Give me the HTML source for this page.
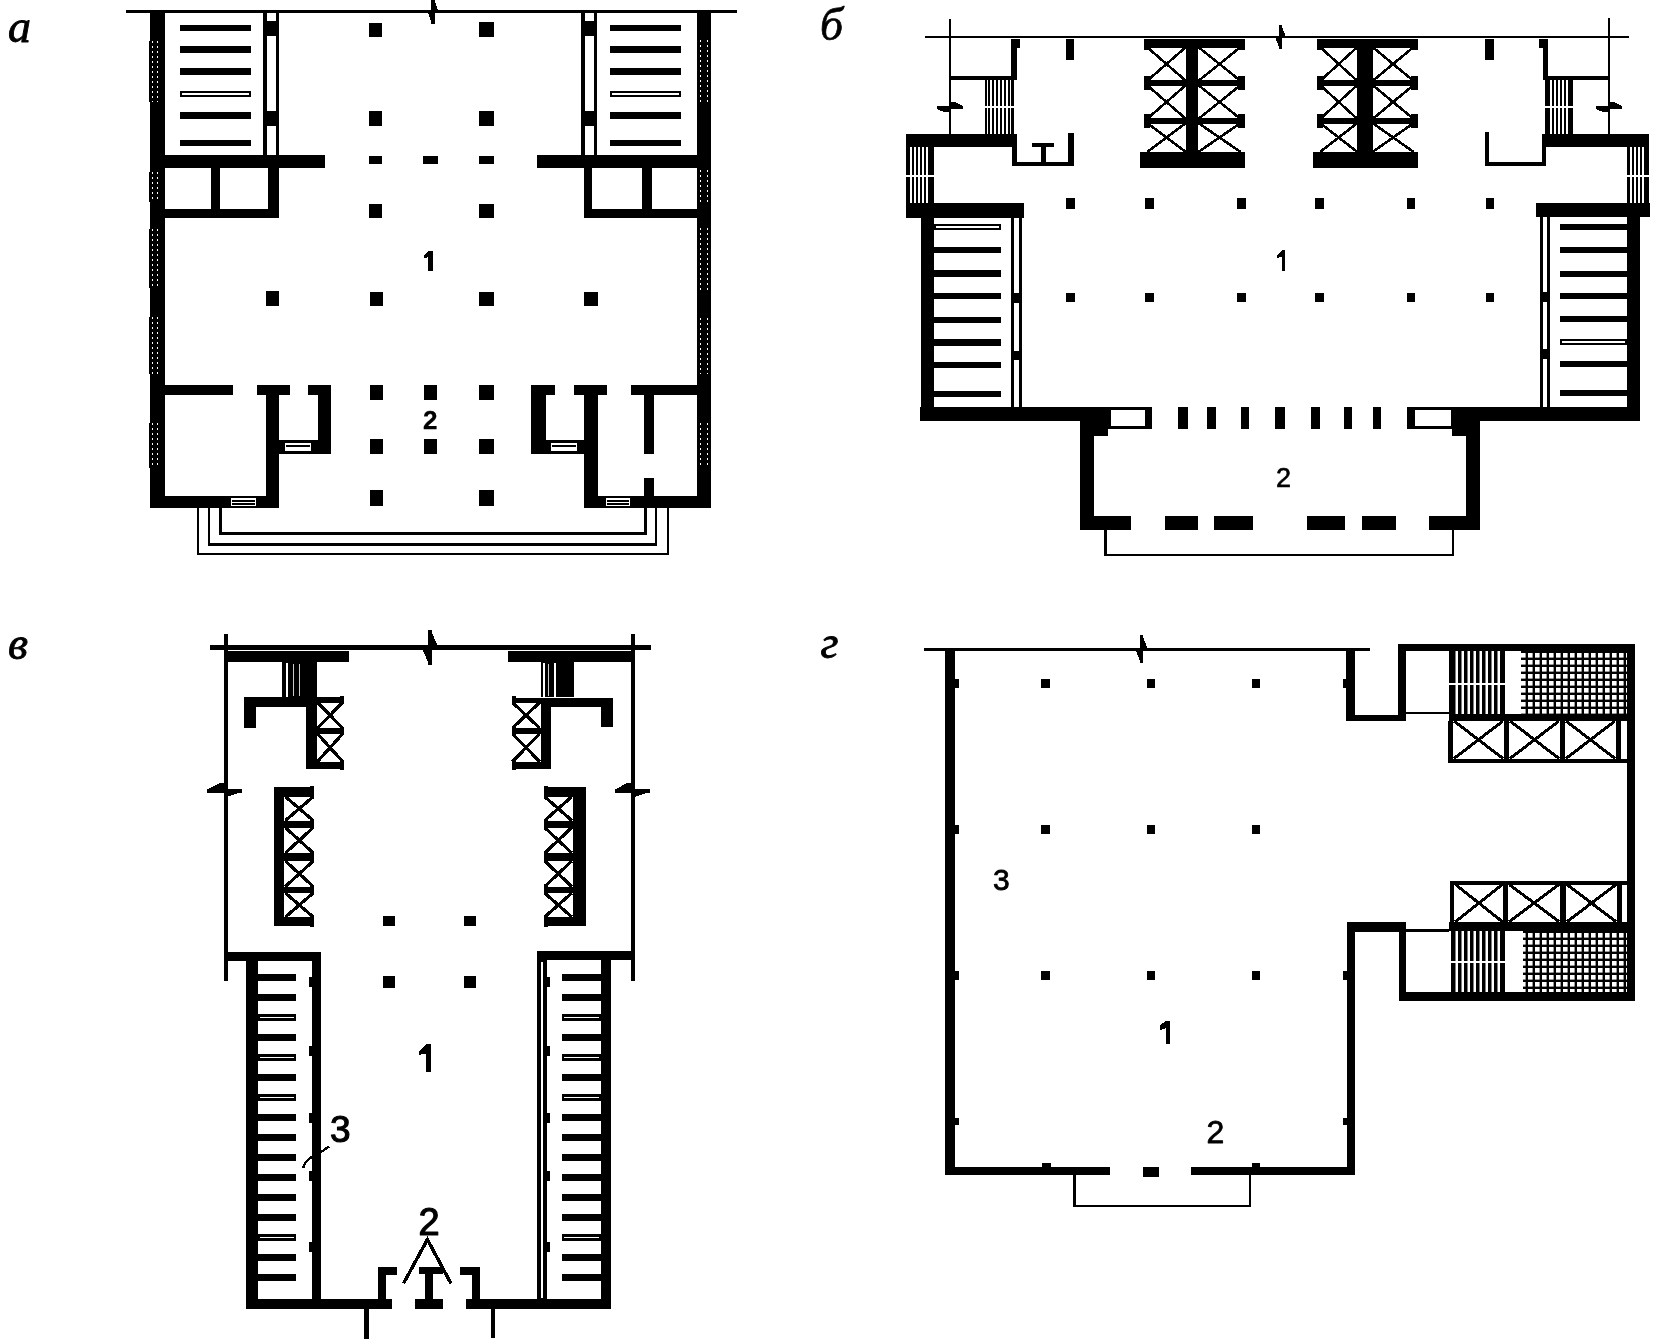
<!DOCTYPE html>
<html><head><meta charset="utf-8"><style>html,body{margin:0;padding:0;background:#fff;width:1654px;height:1343px;overflow:hidden}svg{display:block;will-change:transform}</style></head>
<body><svg width="1654" height="1343" viewBox="0 0 1654 1343" shape-rendering="crispEdges">
<defs>
<pattern id="vs" x="0" y="0" width="4" height="10" patternUnits="userSpaceOnUse"><rect x="0" y="0" width="2" height="10" fill="#000"/></pattern>
<pattern id="vs2" x="0" y="0" width="6" height="10" patternUnits="userSpaceOnUse"><rect x="0" y="0" width="3.5" height="10" fill="#000" shape-rendering="auto"/></pattern>
<pattern id="grid" x="0" y="0" width="7" height="7" patternUnits="userSpaceOnUse"><rect width="7" height="7" fill="#000"/><rect x="2" y="2" width="4.6" height="4.6" fill="#fff" shape-rendering="auto"/></pattern>
</defs>
<text x="8" y="42" font-family="Liberation Serif" font-size="46" font-weight="normal" stroke="#000" stroke-width="0.9" stroke-linejoin="round"><tspan font-style="italic">a</tspan></text>
<rect x="126.0" y="10.0" width="611.0" height="2.5" fill="#000"/>
<rect x="431.1" y="-0.5" width="3.7" height="24.0" fill="#000"/>
<polygon points="434.9,1.3 437.9,10.5 434.9,10.5" fill="#000"/>
<polygon points="431.1,12.5 428.1,12.5 431.1,21.7" fill="#000"/>
<rect x="150.0" y="11.0" width="15.0" height="497.0" fill="#000"/>
<rect x="696.5" y="11.0" width="14.5" height="497.0" fill="#000"/>
<path d="M152.5,41 V102 M157.5,41 V102" stroke="#fff" stroke-width="1" stroke-dasharray="1.5 3.5" fill="none"/>
<rect x="148.8" y="41.0" width="2.2" height="61.0" fill="#000"/>
<path d="M152.5,172 V202 M157.5,172 V202" stroke="#fff" stroke-width="1" stroke-dasharray="1.5 3.5" fill="none"/>
<rect x="148.8" y="172.0" width="2.2" height="30.0" fill="#000"/>
<path d="M152.5,229 V288 M157.5,229 V288" stroke="#fff" stroke-width="1" stroke-dasharray="1.5 3.5" fill="none"/>
<rect x="148.8" y="229.0" width="2.2" height="59.0" fill="#000"/>
<path d="M152.5,317 V374 M157.5,317 V374" stroke="#fff" stroke-width="1" stroke-dasharray="1.5 3.5" fill="none"/>
<rect x="148.8" y="317.0" width="2.2" height="57.0" fill="#000"/>
<path d="M152.5,423 V468 M157.5,423 V468" stroke="#fff" stroke-width="1" stroke-dasharray="1.5 3.5" fill="none"/>
<rect x="148.8" y="423.0" width="2.2" height="45.0" fill="#000"/>
<path d="M700.5,40 V103 M707.5,40 V103" stroke="#fff" stroke-width="1" stroke-dasharray="1.5 3.5" fill="none"/>
<path d="M700.5,170 V203 M707.5,170 V203" stroke="#fff" stroke-width="1" stroke-dasharray="1.5 3.5" fill="none"/>
<path d="M700.5,228 V290 M707.5,228 V290" stroke="#fff" stroke-width="1" stroke-dasharray="1.5 3.5" fill="none"/>
<path d="M700.5,318 V374 M707.5,318 V374" stroke="#fff" stroke-width="1" stroke-dasharray="1.5 3.5" fill="none"/>
<path d="M700.5,423 V468 M707.5,423 V468" stroke="#fff" stroke-width="1" stroke-dasharray="1.5 3.5" fill="none"/>
<rect x="180.0" y="24.7" width="71.0" height="6.6" fill="#000"/>
<rect x="180.0" y="46.3" width="71.0" height="6.6" fill="#000"/>
<rect x="180.0" y="68.2" width="71.0" height="6.6" fill="#000"/>
<rect x="180.0" y="90.5" width="71.0" height="6.6" fill="#000"/>
<rect x="182.0" y="92.8" width="67.0" height="2.0" fill="#fff"/>
<rect x="180.0" y="112.4" width="71.0" height="6.6" fill="#000"/>
<rect x="180.0" y="139.7" width="71.0" height="6.6" fill="#000"/>
<rect x="610.0" y="24.7" width="71.0" height="6.6" fill="#000"/>
<rect x="610.0" y="46.3" width="71.0" height="6.6" fill="#000"/>
<rect x="610.0" y="68.2" width="71.0" height="6.6" fill="#000"/>
<rect x="610.0" y="90.5" width="71.0" height="6.6" fill="#000"/>
<rect x="612.0" y="92.8" width="67.0" height="2.0" fill="#fff"/>
<rect x="610.0" y="112.4" width="71.0" height="6.6" fill="#000"/>
<rect x="610.0" y="139.7" width="71.0" height="6.6" fill="#000"/>
<rect x="263.0" y="11.0" width="3.5" height="144.0" fill="#000"/>
<rect x="275.5" y="11.0" width="3.5" height="144.0" fill="#000"/>
<rect x="263.0" y="21.0" width="16.0" height="15.0" fill="#000"/>
<rect x="263.0" y="111.0" width="16.0" height="15.0" fill="#000"/>
<rect x="581.0" y="11.0" width="3.5" height="144.0" fill="#000"/>
<rect x="593.5" y="11.0" width="3.5" height="144.0" fill="#000"/>
<rect x="581.0" y="21.0" width="16.0" height="15.0" fill="#000"/>
<rect x="581.0" y="111.0" width="16.0" height="15.0" fill="#000"/>
<rect x="151.0" y="155.0" width="174.0" height="12.5" fill="#000"/>
<rect x="536.6" y="155.0" width="174.4" height="12.5" fill="#000"/>
<rect x="268.0" y="167.0" width="11.0" height="51.0" fill="#000"/>
<rect x="151.0" y="209.0" width="128.0" height="9.0" fill="#000"/>
<rect x="211.0" y="167.0" width="9.0" height="51.0" fill="#000"/>
<rect x="584.0" y="167.0" width="8.4" height="51.0" fill="#000"/>
<rect x="584.0" y="209.0" width="127.0" height="9.0" fill="#000"/>
<rect x="642.0" y="167.0" width="10.0" height="51.0" fill="#000"/>
<rect x="369.0" y="23.0" width="13.0" height="14.0" fill="#000"/>
<rect x="478.5" y="22.0" width="15.0" height="15.0" fill="#000"/>
<rect x="369.0" y="111.0" width="13.0" height="15.0" fill="#000"/>
<rect x="478.5" y="111.0" width="15.0" height="15.0" fill="#000"/>
<rect x="369.0" y="156.0" width="13.0" height="8.0" fill="#000"/>
<rect x="423.0" y="156.0" width="15.0" height="8.0" fill="#000"/>
<rect x="478.5" y="156.0" width="15.0" height="8.0" fill="#000"/>
<rect x="369.0" y="204.0" width="13.0" height="14.0" fill="#000"/>
<rect x="478.5" y="204.0" width="15.0" height="14.0" fill="#000"/>
<rect x="266.0" y="291.0" width="13.0" height="15.0" fill="#000"/>
<rect x="369.5" y="292.0" width="13.5" height="14.0" fill="#000"/>
<rect x="479.0" y="292.0" width="15.0" height="14.0" fill="#000"/>
<rect x="584.0" y="292.0" width="14.0" height="14.0" fill="#000"/>
<rect x="369.5" y="385.0" width="13.5" height="15.0" fill="#000"/>
<rect x="424.0" y="385.0" width="13.0" height="15.0" fill="#000"/>
<rect x="479.0" y="385.0" width="15.0" height="15.0" fill="#000"/>
<rect x="369.5" y="439.0" width="13.5" height="15.0" fill="#000"/>
<rect x="424.0" y="439.0" width="13.0" height="15.0" fill="#000"/>
<rect x="479.0" y="439.0" width="15.0" height="15.0" fill="#000"/>
<rect x="369.5" y="490.0" width="13.5" height="16.0" fill="#000"/>
<rect x="479.0" y="490.0" width="15.0" height="16.0" fill="#000"/>
<rect x="165.0" y="385.0" width="68.0" height="10.0" fill="#000"/>
<rect x="256.7" y="385.0" width="33.0" height="10.0" fill="#000"/>
<rect x="266.0" y="385.0" width="13.0" height="123.0" fill="#000"/>
<rect x="307.6" y="385.0" width="23.4" height="10.0" fill="#000"/>
<rect x="318.0" y="385.0" width="13.0" height="69.0" fill="#000"/>
<rect x="279.0" y="440.0" width="52.0" height="14.0" fill="#000"/>
<rect x="285.0" y="443.0" width="26.0" height="8.0" fill="#fff"/>
<path d="M286,446 H310" stroke="#000" stroke-width="1.5" fill="none"/>
<rect x="151.0" y="495.5" width="128.0" height="12.5" fill="#000"/>
<rect x="231.0" y="498.0" width="25.0" height="8.0" fill="#fff"/>
<path d="M232,501 H255 M232,504 H255" stroke="#000" stroke-width="1.2" fill="none"/>
<rect x="631.0" y="385.0" width="66.0" height="10.0" fill="#000"/>
<rect x="574.0" y="385.0" width="32.5" height="10.0" fill="#000"/>
<rect x="584.0" y="385.0" width="14.0" height="123.0" fill="#000"/>
<rect x="530.5" y="385.0" width="24.5" height="10.0" fill="#000"/>
<rect x="530.5" y="385.0" width="15.5" height="69.0" fill="#000"/>
<rect x="530.5" y="440.0" width="53.5" height="14.0" fill="#000"/>
<rect x="551.0" y="443.0" width="26.0" height="8.0" fill="#fff"/>
<path d="M552,446 H576" stroke="#000" stroke-width="1.5" fill="none"/>
<rect x="644.0" y="395.0" width="10.0" height="59.0" fill="#000"/>
<rect x="644.0" y="477.6" width="10.0" height="30.4" fill="#000"/>
<rect x="584.0" y="495.5" width="127.0" height="12.5" fill="#000"/>
<rect x="606.0" y="498.0" width="24.0" height="8.0" fill="#fff"/>
<path d="M607,501 H629 M607,504 H629" stroke="#000" stroke-width="1.2" fill="none"/>
<path d="M198,508 V554 H668 V508" stroke="#000" stroke-width="2.5" fill="none"/>
<path d="M209,508 V544.6 H656 V508" stroke="#000" stroke-width="2.5" fill="none"/>
<path d="M220.5,508 V533.5 H645.5 V508" stroke="#000" stroke-width="2.5" fill="none"/>
<polygon points="424,255 428.2,251 432.9,251 432.9,270.8 428.2,270.8 428.2,257.1 425.5,258 424,258" fill="#000"/>
<text x="423" y="428.5" font-family="Liberation Sans" font-size="26" font-weight="bold" stroke="#000" stroke-width="0.3" stroke-linejoin="round">2</text>
<text x="820" y="40" font-family="Liberation Serif" font-size="46" font-weight="normal" stroke="#000" stroke-width="0.7" stroke-linejoin="round"><tspan font-style="italic">б</tspan></text>
<rect x="925.0" y="35.5" width="704.0" height="2.5" fill="#000"/>
<rect x="1279.0" y="25.0" width="3.0" height="24.0" fill="#000"/>
<polygon points="1282.0,26.8 1285.5,36.0 1282.0,36.0" fill="#000"/>
<polygon points="1279.0,38.0 1275.5,38.0 1279.0,47.2" fill="#000"/>
<path d="M950,19 V134" stroke="#000" stroke-width="2.2" fill="none"/>
<rect x="937.0" y="105.9" width="26.0" height="3.0" fill="#000"/>
<polygon points="949.0,101.9 955.2,101.9 963.0,105.9 949.0,105.9" fill="#000"/>
<polygon points="951.0,111.9 943.5,111.9 937.0,108.9 951.0,108.9" fill="#000"/>
<path d="M1609,18 V134" stroke="#000" stroke-width="2.2" fill="none"/>
<rect x="1596.0" y="105.9" width="26.0" height="3.0" fill="#000"/>
<polygon points="1608.0,101.9 1614.2,101.9 1622.0,105.9 1608.0,105.9" fill="#000"/>
<polygon points="1610.0,111.9 1602.5,111.9 1596.0,108.9 1610.0,108.9" fill="#000"/>
<rect x="1011.0" y="39.0" width="5.5" height="41.0" fill="#000"/>
<rect x="1011.0" y="39.0" width="9.0" height="9.0" fill="#000"/>
<rect x="950.0" y="76.0" width="65.0" height="4.0" fill="#000"/>
<rect x="985.0" y="78.0" width="29.0" height="56.0" fill="url(#vs)"/>
<rect x="985.0" y="78.0" width="2.0" height="56.0" fill="#000"/>
<rect x="1011.0" y="78.0" width="3.0" height="56.0" fill="#000"/>
<rect x="985.0" y="106.0" width="29.0" height="2.0" fill="#fff"/>
<rect x="1066.0" y="39.0" width="8.0" height="21.0" fill="#000"/>
<rect x="906.0" y="134.0" width="110.0" height="13.4" fill="#000"/>
<rect x="906.0" y="147.0" width="27.5" height="56.0" fill="url(#vs)"/>
<rect x="906.0" y="147.0" width="3.0" height="56.0" fill="#000"/>
<rect x="930.0" y="147.0" width="3.5" height="56.0" fill="#000"/>
<rect x="906.0" y="175.0" width="27.5" height="2.0" fill="#fff"/>
<rect x="906.0" y="203.0" width="118.4" height="14.7" fill="#000"/>
<rect x="1012.0" y="134.0" width="5.0" height="32.4" fill="#000"/>
<rect x="1012.0" y="162.0" width="62.0" height="4.4" fill="#000"/>
<rect x="1068.0" y="133.0" width="6.0" height="33.4" fill="#000"/>
<rect x="1032.0" y="143.0" width="21.5" height="4.4" fill="#000"/>
<rect x="1040.7" y="147.0" width="4.9" height="15.0" fill="#000"/>
<rect x="1543.0" y="39.0" width="5.0" height="41.0" fill="#000"/>
<rect x="1539.4" y="39.0" width="8.6" height="9.0" fill="#000"/>
<rect x="1545.0" y="76.0" width="64.0" height="4.0" fill="#000"/>
<rect x="1545.0" y="78.0" width="27.5" height="56.0" fill="url(#vs)"/>
<rect x="1545.0" y="78.0" width="3.0" height="56.0" fill="#000"/>
<rect x="1569.5" y="78.0" width="3.0" height="56.0" fill="#000"/>
<rect x="1545.0" y="106.0" width="27.5" height="2.0" fill="#fff"/>
<rect x="1484.7" y="39.0" width="9.0" height="21.0" fill="#000"/>
<rect x="1541.7" y="134.0" width="107.3" height="13.0" fill="#000"/>
<rect x="1626.5" y="147.0" width="22.5" height="56.0" fill="url(#vs)"/>
<rect x="1626.5" y="147.0" width="3.0" height="56.0" fill="#000"/>
<rect x="1646.0" y="147.0" width="3.0" height="56.0" fill="#000"/>
<rect x="1626.5" y="175.0" width="22.5" height="2.0" fill="#fff"/>
<rect x="1536.0" y="203.0" width="114.0" height="14.0" fill="#000"/>
<rect x="1541.7" y="134.0" width="4.0" height="32.0" fill="#000"/>
<rect x="1484.7" y="162.0" width="61.0" height="4.0" fill="#000"/>
<rect x="1484.7" y="132.0" width="4.3" height="34.0" fill="#000"/>
<rect x="1143.5" y="39.0" width="101.2" height="9.0" fill="#000"/>
<rect x="1186.0" y="39.0" width="12.3" height="128.5" fill="#000"/>
<rect x="1140.0" y="151.8" width="104.7" height="15.7" fill="#000"/>
<rect x="1143.5" y="80.0" width="101.2" height="5.5" fill="#000"/>
<rect x="1143.5" y="118.0" width="101.2" height="5.5" fill="#000"/>
<rect x="1143.5" y="75.6" width="6.5" height="14.0" fill="#000"/>
<rect x="1237.7" y="75.6" width="7.0" height="14.0" fill="#000"/>
<rect x="1143.5" y="113.6" width="6.5" height="14.0" fill="#000"/>
<rect x="1237.7" y="113.6" width="7.0" height="14.0" fill="#000"/>
<rect x="1143.5" y="39.0" width="6.5" height="11.0" fill="#000"/>
<rect x="1237.7" y="39.0" width="7.0" height="11.0" fill="#000"/>
<path d="M1147,47 L1186,81 M1186,47 L1147,81" stroke="#000" stroke-width="2.6" fill="none"/>
<path d="M1147,85 L1186,119 M1186,85 L1147,119" stroke="#000" stroke-width="2.6" fill="none"/>
<path d="M1147,123 L1186,152 M1186,123 L1147,152" stroke="#000" stroke-width="2.6" fill="none"/>
<path d="M1198.3,47 L1240.7,81 M1240.7,47 L1198.3,81" stroke="#000" stroke-width="2.6" fill="none"/>
<path d="M1198.3,85 L1240.7,119 M1240.7,85 L1198.3,119" stroke="#000" stroke-width="2.6" fill="none"/>
<path d="M1198.3,123 L1240.7,152 M1240.7,123 L1198.3,152" stroke="#000" stroke-width="2.6" fill="none"/>
<rect x="1316.5" y="39.0" width="101.2" height="9.0" fill="#000"/>
<rect x="1357.4" y="39.0" width="15.1" height="128.5" fill="#000"/>
<rect x="1313.0" y="151.8" width="104.7" height="15.7" fill="#000"/>
<rect x="1316.5" y="80.0" width="101.2" height="5.5" fill="#000"/>
<rect x="1316.5" y="118.0" width="101.2" height="5.5" fill="#000"/>
<rect x="1316.5" y="75.6" width="6.5" height="14.0" fill="#000"/>
<rect x="1410.7" y="75.6" width="7.0" height="14.0" fill="#000"/>
<rect x="1316.5" y="113.6" width="6.5" height="14.0" fill="#000"/>
<rect x="1410.7" y="113.6" width="7.0" height="14.0" fill="#000"/>
<rect x="1316.5" y="39.0" width="6.5" height="11.0" fill="#000"/>
<rect x="1410.7" y="39.0" width="7.0" height="11.0" fill="#000"/>
<path d="M1320,47 L1357.4,81 M1357.4,47 L1320,81" stroke="#000" stroke-width="2.6" fill="none"/>
<path d="M1320,85 L1357.4,119 M1357.4,85 L1320,119" stroke="#000" stroke-width="2.6" fill="none"/>
<path d="M1320,123 L1357.4,152 M1357.4,123 L1320,152" stroke="#000" stroke-width="2.6" fill="none"/>
<path d="M1372.5,47 L1413.7,81 M1413.7,47 L1372.5,81" stroke="#000" stroke-width="2.6" fill="none"/>
<path d="M1372.5,85 L1413.7,119 M1413.7,85 L1372.5,119" stroke="#000" stroke-width="2.6" fill="none"/>
<path d="M1372.5,123 L1413.7,152 M1413.7,123 L1372.5,152" stroke="#000" stroke-width="2.6" fill="none"/>
<rect x="920.6" y="217.0" width="13.4" height="204.0" fill="#000"/>
<rect x="934.0" y="223.5" width="67.0" height="6.4" fill="#000"/>
<rect x="936.0" y="225.7" width="63.0" height="2.0" fill="#fff"/>
<rect x="934.0" y="246.5" width="67.0" height="6.4" fill="#000"/>
<rect x="934.0" y="270.4" width="67.0" height="6.4" fill="#000"/>
<rect x="934.0" y="292.8" width="67.0" height="6.4" fill="#000"/>
<rect x="934.0" y="316.5" width="67.0" height="6.4" fill="#000"/>
<rect x="934.0" y="339.3" width="67.0" height="6.4" fill="#000"/>
<rect x="934.0" y="361.7" width="67.0" height="6.4" fill="#000"/>
<rect x="934.0" y="390.7" width="67.0" height="6.4" fill="#000"/>
<rect x="1010.6" y="217.0" width="3.0" height="190.0" fill="#000"/>
<rect x="1018.8" y="217.0" width="3.0" height="190.0" fill="#000"/>
<rect x="1010.6" y="293.4" width="11.2" height="10.0" fill="#000"/>
<rect x="1010.6" y="351.0" width="11.2" height="9.0" fill="#000"/>
<rect x="1626.5" y="217.0" width="13.0" height="204.0" fill="#000"/>
<rect x="1560.0" y="223.7" width="66.5" height="6.0" fill="#000"/>
<rect x="1560.0" y="246.7" width="66.5" height="6.0" fill="#000"/>
<rect x="1560.0" y="270.6" width="66.5" height="6.0" fill="#000"/>
<rect x="1560.0" y="292.6" width="66.5" height="6.0" fill="#000"/>
<rect x="1560.0" y="316.0" width="66.5" height="6.0" fill="#000"/>
<rect x="1560.0" y="339.0" width="66.5" height="6.0" fill="#000"/>
<rect x="1562.0" y="341.0" width="62.5" height="2.0" fill="#fff"/>
<rect x="1560.0" y="361.4" width="66.5" height="6.0" fill="#000"/>
<rect x="1560.0" y="390.4" width="66.5" height="6.0" fill="#000"/>
<rect x="1540.0" y="217.0" width="3.0" height="190.0" fill="#000"/>
<rect x="1547.0" y="217.0" width="3.0" height="190.0" fill="#000"/>
<rect x="1540.0" y="292.0" width="10.0" height="10.0" fill="#000"/>
<rect x="1540.0" y="349.0" width="10.0" height="10.0" fill="#000"/>
<rect x="920.0" y="407.3" width="188.0" height="13.7" fill="#000"/>
<rect x="1109.5" y="408.8" width="41.4" height="18.2" fill="none" stroke="#000" stroke-width="3"/>
<rect x="1144.6" y="407.3" width="7.8" height="21.2" fill="#000"/>
<rect x="1080.0" y="421.0" width="28.0" height="15.0" fill="#000"/>
<rect x="1080.0" y="421.0" width="14.0" height="109.0" fill="#000"/>
<rect x="1178.0" y="407.0" width="10.0" height="21.5" fill="#000"/>
<rect x="1207.0" y="407.0" width="9.0" height="21.5" fill="#000"/>
<rect x="1241.0" y="407.0" width="8.0" height="21.5" fill="#000"/>
<rect x="1275.0" y="407.0" width="10.0" height="21.5" fill="#000"/>
<rect x="1311.0" y="407.0" width="9.0" height="21.5" fill="#000"/>
<rect x="1344.0" y="407.0" width="8.0" height="21.5" fill="#000"/>
<rect x="1373.0" y="407.0" width="8.0" height="21.5" fill="#000"/>
<rect x="1408.5" y="408.5" width="43.6" height="18.5" fill="none" stroke="#000" stroke-width="3"/>
<rect x="1407.0" y="407.0" width="7.5" height="21.5" fill="#000"/>
<rect x="1452.0" y="407.0" width="187.5" height="14.0" fill="#000"/>
<rect x="1452.0" y="421.0" width="14.0" height="15.0" fill="#000"/>
<rect x="1466.0" y="421.0" width="14.0" height="109.0" fill="#000"/>
<rect x="1080.0" y="516.0" width="50.6" height="14.0" fill="#000"/>
<rect x="1165.4" y="516.0" width="32.6" height="14.0" fill="#000"/>
<rect x="1214.0" y="516.0" width="38.6" height="14.0" fill="#000"/>
<rect x="1306.8" y="516.0" width="38.0" height="14.0" fill="#000"/>
<rect x="1362.0" y="516.0" width="33.5" height="14.0" fill="#000"/>
<rect x="1429.0" y="516.0" width="51.0" height="14.0" fill="#000"/>
<path d="M1105.5,530 V555 H1453 V530" stroke="#000" stroke-width="2.5" fill="none"/>
<rect x="1066.0" y="197.6" width="8.7" height="11.2" fill="#000"/>
<rect x="1145.0" y="197.6" width="8.5" height="11.2" fill="#000"/>
<rect x="1237.0" y="197.6" width="9.0" height="11.2" fill="#000"/>
<rect x="1315.0" y="197.6" width="8.5" height="11.2" fill="#000"/>
<rect x="1407.0" y="197.6" width="8.0" height="11.2" fill="#000"/>
<rect x="1485.5" y="197.6" width="8.5" height="11.2" fill="#000"/>
<rect x="1066.0" y="293.4" width="8.7" height="8.9" fill="#000"/>
<rect x="1145.0" y="293.4" width="8.5" height="8.9" fill="#000"/>
<rect x="1237.0" y="293.4" width="9.0" height="8.9" fill="#000"/>
<rect x="1315.0" y="293.4" width="8.5" height="8.9" fill="#000"/>
<rect x="1407.0" y="293.4" width="8.0" height="8.9" fill="#000"/>
<rect x="1485.5" y="293.4" width="8.5" height="8.9" fill="#000"/>
<polygon points="1277,255 1282,250.1 1285.2,250.1 1285.2,270.7 1282,270.7 1282,256.8 1278.5,257.5 1277,257.5" fill="#000"/>
<text x="1276" y="487" font-family="Liberation Sans" font-size="27" font-weight="normal" stroke="#000" stroke-width="0.6" stroke-linejoin="round">2</text>
<text x="8" y="659" font-family="Liberation Serif" font-size="46" font-weight="normal" stroke="#000" stroke-width="0.9" stroke-linejoin="round"><tspan font-style="italic">в</tspan></text>
<rect x="209.5" y="645.0" width="441.9" height="5.0" fill="#000"/>
<rect x="428.1" y="630.0" width="3.9" height="35.0" fill="#000"/>
<polygon points="431.9,632.6 437.9,646.5 431.9,646.5" fill="#000"/>
<polygon points="428.1,648.5 422.1,648.5 428.1,662.4" fill="#000"/>
<rect x="224.0" y="634.0" width="3.5" height="347.0" fill="#000"/>
<rect x="207.0" y="788.8" width="35.0" height="3.9" fill="#000"/>
<polygon points="225.5,782.8 220.1,782.8 208.8,788.8 225.5,788.8" fill="#000"/>
<polygon points="223.5,797.2 226.2,797.2 239.4,792.8 223.5,792.8" fill="#000"/>
<rect x="630.5" y="634.0" width="4.0" height="347.0" fill="#000"/>
<rect x="614.5" y="788.8" width="35.0" height="3.9" fill="#000"/>
<polygon points="633.0,782.8 627.6,782.8 616.2,788.8 633.0,788.8" fill="#000"/>
<polygon points="631.0,797.2 633.8,797.2 646.9,792.8 631.0,792.8" fill="#000"/>
<rect x="225.0" y="651.0" width="123.8" height="11.4" fill="#000"/>
<rect x="508.4" y="651.0" width="124.0" height="11.4" fill="#000"/>
<rect x="282.0" y="662.0" width="34.5" height="35.0" fill="#000"/>
<rect x="285.8" y="663.0" width="2.1" height="34.0" fill="#fff"/>
<path d="M293,664 V696 M299,664 V696" stroke="#fff" stroke-width="0.8" fill="none"/>
<rect x="540.6" y="662.0" width="33.4" height="35.0" fill="#000"/>
<rect x="542.8" y="663.0" width="1.8" height="34.0" fill="#fff"/>
<rect x="554.0" y="663.0" width="2.0" height="34.0" fill="#fff"/>
<path d="M548,664 V696" stroke="#fff" stroke-width="0.8" fill="none"/>
<rect x="244.0" y="697.0" width="72.5" height="9.7" fill="#000"/>
<rect x="244.0" y="697.0" width="11.5" height="30.6" fill="#000"/>
<rect x="540.6" y="697.5" width="72.2" height="9.5" fill="#000"/>
<rect x="601.4" y="697.5" width="11.4" height="29.5" fill="#000"/>
<rect x="306.0" y="697.0" width="10.5" height="71.8" fill="#000"/>
<rect x="306.0" y="697.0" width="37.6" height="5.5" fill="#000"/>
<rect x="306.0" y="728.0" width="37.6" height="5.8" fill="#000"/>
<rect x="306.0" y="761.5" width="37.6" height="7.3" fill="#000"/>
<path d="M317.5,702.5 L342.6,728 M342.6,702.5 L317.5,728" stroke="#000" stroke-width="3.2" fill="none"/>
<path d="M317.5,733.8 L342.6,761.5 M342.6,733.8 L317.5,761.5" stroke="#000" stroke-width="3.2" fill="none"/>
<rect x="339.6" y="695.5" width="4.0" height="8.5" fill="#000"/>
<rect x="339.6" y="726.5" width="4.0" height="8.8" fill="#000"/>
<rect x="339.6" y="760.0" width="4.0" height="10.3" fill="#000"/>
<rect x="540.6" y="697.5" width="10.7" height="71.3" fill="#000"/>
<rect x="511.5" y="697.5" width="39.8" height="5.0" fill="#000"/>
<rect x="511.5" y="728.0" width="39.8" height="5.8" fill="#000"/>
<rect x="511.5" y="761.5" width="39.8" height="7.3" fill="#000"/>
<path d="M512.5,702.5 L539.6,728 M539.6,702.5 L512.5,728" stroke="#000" stroke-width="3.2" fill="none"/>
<path d="M512.5,733.8 L539.6,761.5 M539.6,733.8 L512.5,761.5" stroke="#000" stroke-width="3.2" fill="none"/>
<rect x="511.5" y="696.0" width="4.0" height="8.0" fill="#000"/>
<rect x="511.5" y="726.5" width="4.0" height="8.8" fill="#000"/>
<rect x="511.5" y="760.0" width="4.0" height="10.3" fill="#000"/>
<rect x="274.0" y="787.0" width="10.4" height="138.8" fill="#000"/>
<rect x="274.0" y="787.0" width="40.2" height="9.7" fill="#000"/>
<rect x="274.0" y="820.5" width="40.2" height="7.1" fill="#000"/>
<rect x="274.0" y="853.0" width="40.2" height="8.0" fill="#000"/>
<rect x="274.0" y="886.5" width="40.2" height="6.5" fill="#000"/>
<rect x="274.0" y="917.0" width="40.2" height="8.8" fill="#000"/>
<path d="M285.4,796.7 L313.2,820.5 M313.2,796.7 L285.4,820.5" stroke="#000" stroke-width="3.2" fill="none"/>
<path d="M285.4,827.6 L313.2,853 M313.2,827.6 L285.4,853" stroke="#000" stroke-width="3.2" fill="none"/>
<path d="M285.4,861 L313.2,886.5 M313.2,861 L285.4,886.5" stroke="#000" stroke-width="3.2" fill="none"/>
<path d="M285.4,893 L313.2,917 M313.2,893 L285.4,917" stroke="#000" stroke-width="3.2" fill="none"/>
<rect x="310.2" y="785.5" width="4.0" height="12.7" fill="#000"/>
<rect x="310.2" y="819.0" width="4.0" height="10.1" fill="#000"/>
<rect x="310.2" y="851.5" width="4.0" height="11.0" fill="#000"/>
<rect x="310.2" y="885.0" width="4.0" height="9.5" fill="#000"/>
<rect x="310.2" y="915.5" width="4.0" height="11.8" fill="#000"/>
<rect x="572.8" y="787.0" width="13.2" height="138.8" fill="#000"/>
<rect x="543.7" y="787.0" width="42.3" height="9.7" fill="#000"/>
<rect x="543.7" y="820.5" width="42.3" height="7.1" fill="#000"/>
<rect x="543.7" y="853.0" width="42.3" height="8.0" fill="#000"/>
<rect x="543.7" y="886.5" width="42.3" height="6.5" fill="#000"/>
<rect x="543.7" y="917.0" width="42.3" height="8.8" fill="#000"/>
<path d="M544.7,796.7 L571.8,820.5 M571.8,796.7 L544.7,820.5" stroke="#000" stroke-width="3.2" fill="none"/>
<path d="M544.7,827.6 L571.8,853 M571.8,827.6 L544.7,853" stroke="#000" stroke-width="3.2" fill="none"/>
<path d="M544.7,861 L571.8,886.5 M571.8,861 L544.7,886.5" stroke="#000" stroke-width="3.2" fill="none"/>
<path d="M544.7,893 L571.8,917 M571.8,893 L544.7,917" stroke="#000" stroke-width="3.2" fill="none"/>
<rect x="543.7" y="785.5" width="4.0" height="12.7" fill="#000"/>
<rect x="543.7" y="819.0" width="4.0" height="10.1" fill="#000"/>
<rect x="543.7" y="851.5" width="4.0" height="11.0" fill="#000"/>
<rect x="543.7" y="885.0" width="4.0" height="9.5" fill="#000"/>
<rect x="543.7" y="915.5" width="4.0" height="11.8" fill="#000"/>
<rect x="383.0" y="915.5" width="11.5" height="10.5" fill="#000"/>
<rect x="464.0" y="915.5" width="11.5" height="10.5" fill="#000"/>
<rect x="383.0" y="976.0" width="11.5" height="12.4" fill="#000"/>
<rect x="464.0" y="976.0" width="11.5" height="12.4" fill="#000"/>
<rect x="224.6" y="952.0" width="96.8" height="8.5" fill="#000"/>
<rect x="537.0" y="950.5" width="96.5" height="9.5" fill="#000"/>
<rect x="246.0" y="952.0" width="11.8" height="356.6" fill="#000"/>
<rect x="312.0" y="952.0" width="9.4" height="356.6" fill="#000"/>
<rect x="601.3" y="950.5" width="10.1" height="358.1" fill="#000"/>
<rect x="536.8" y="950.5" width="10.2" height="358.1" fill="#000"/>
<rect x="540.5" y="962.0" width="2.5" height="336.0" fill="#fff"/>
<rect x="258.0" y="974.0" width="38.0" height="7.2" fill="#000"/>
<rect x="562.3" y="974.0" width="39.0" height="7.2" fill="#000"/>
<rect x="258.0" y="993.7" width="38.0" height="7.2" fill="#000"/>
<rect x="562.3" y="993.7" width="39.0" height="7.2" fill="#000"/>
<rect x="258.0" y="1013.7" width="38.0" height="7.2" fill="#000"/>
<rect x="562.3" y="1013.7" width="39.0" height="7.2" fill="#000"/>
<rect x="260.0" y="1016.5" width="34.0" height="1.6" fill="#fff"/>
<rect x="564.3" y="1016.5" width="35.0" height="1.6" fill="#fff"/>
<rect x="258.0" y="1033.7" width="38.0" height="7.2" fill="#000"/>
<rect x="562.3" y="1033.7" width="39.0" height="7.2" fill="#000"/>
<rect x="258.0" y="1053.7" width="38.0" height="7.2" fill="#000"/>
<rect x="562.3" y="1053.7" width="39.0" height="7.2" fill="#000"/>
<rect x="260.0" y="1056.5" width="34.0" height="1.6" fill="#fff"/>
<rect x="564.3" y="1056.5" width="35.0" height="1.6" fill="#fff"/>
<rect x="258.0" y="1073.7" width="38.0" height="7.2" fill="#000"/>
<rect x="562.3" y="1073.7" width="39.0" height="7.2" fill="#000"/>
<rect x="258.0" y="1093.7" width="38.0" height="7.2" fill="#000"/>
<rect x="562.3" y="1093.7" width="39.0" height="7.2" fill="#000"/>
<rect x="260.0" y="1096.5" width="34.0" height="1.6" fill="#fff"/>
<rect x="564.3" y="1096.5" width="35.0" height="1.6" fill="#fff"/>
<rect x="258.0" y="1113.7" width="38.0" height="7.2" fill="#000"/>
<rect x="562.3" y="1113.7" width="39.0" height="7.2" fill="#000"/>
<rect x="258.0" y="1133.7" width="38.0" height="7.2" fill="#000"/>
<rect x="562.3" y="1133.7" width="39.0" height="7.2" fill="#000"/>
<rect x="258.0" y="1153.7" width="38.0" height="7.2" fill="#000"/>
<rect x="562.3" y="1153.7" width="39.0" height="7.2" fill="#000"/>
<rect x="258.0" y="1173.7" width="38.0" height="7.2" fill="#000"/>
<rect x="562.3" y="1173.7" width="39.0" height="7.2" fill="#000"/>
<rect x="258.0" y="1193.7" width="38.0" height="7.2" fill="#000"/>
<rect x="562.3" y="1193.7" width="39.0" height="7.2" fill="#000"/>
<rect x="258.0" y="1213.7" width="38.0" height="7.2" fill="#000"/>
<rect x="562.3" y="1213.7" width="39.0" height="7.2" fill="#000"/>
<rect x="258.0" y="1233.7" width="38.0" height="7.2" fill="#000"/>
<rect x="562.3" y="1233.7" width="39.0" height="7.2" fill="#000"/>
<rect x="260.0" y="1236.5" width="34.0" height="1.6" fill="#fff"/>
<rect x="564.3" y="1236.5" width="35.0" height="1.6" fill="#fff"/>
<rect x="258.0" y="1253.7" width="38.0" height="7.2" fill="#000"/>
<rect x="562.3" y="1253.7" width="39.0" height="7.2" fill="#000"/>
<rect x="258.0" y="1273.7" width="38.0" height="7.2" fill="#000"/>
<rect x="562.3" y="1273.7" width="39.0" height="7.2" fill="#000"/>
<rect x="309.0" y="977.0" width="3.0" height="10.0" fill="#000"/>
<rect x="547.0" y="977.0" width="3.0" height="10.0" fill="#000"/>
<rect x="309.0" y="1046.0" width="3.0" height="10.0" fill="#000"/>
<rect x="547.0" y="1046.0" width="3.0" height="10.0" fill="#000"/>
<rect x="309.0" y="1112.5" width="3.0" height="10.0" fill="#000"/>
<rect x="547.0" y="1112.5" width="3.0" height="10.0" fill="#000"/>
<rect x="309.0" y="1171.0" width="3.0" height="10.0" fill="#000"/>
<rect x="547.0" y="1171.0" width="3.0" height="10.0" fill="#000"/>
<rect x="309.0" y="1241.5" width="3.0" height="10.0" fill="#000"/>
<rect x="547.0" y="1241.5" width="3.0" height="10.0" fill="#000"/>
<rect x="246.0" y="1298.8" width="146.0" height="9.8" fill="#000"/>
<rect x="466.0" y="1298.8" width="145.4" height="9.8" fill="#000"/>
<rect x="378.0" y="1266.5" width="8.0" height="41.5" fill="#000"/>
<rect x="378.0" y="1266.5" width="18.7" height="8.5" fill="#000"/>
<rect x="472.0" y="1266.5" width="8.0" height="41.5" fill="#000"/>
<rect x="460.0" y="1266.5" width="20.0" height="8.5" fill="#000"/>
<rect x="419.0" y="1266.5" width="23.5" height="7.5" fill="#000"/>
<rect x="425.0" y="1266.5" width="8.3" height="41.5" fill="#000"/>
<rect x="415.0" y="1298.8" width="28.0" height="9.8" fill="#000"/>
<rect x="364.4" y="1308.0" width="4.6" height="31.0" fill="#000"/>
<rect x="490.6" y="1308.0" width="4.7" height="30.0" fill="#000"/>
<path d="M403.5,1283.5 L427.4,1239.5 L451,1283.5" stroke="#000" stroke-width="3.4" fill="none"/>
<path d="M303,1168 Q306,1158 318,1154 L329,1146.6" stroke="#000" stroke-width="2.4" fill="none"/>
<text x="418.5" y="1235" font-family="Liberation Sans" font-size="38" font-weight="normal" stroke="#000" stroke-width="1.2" stroke-linejoin="round">2</text>
<polygon points="419,1051 426,1044 431,1044 431,1071.7 426,1071.7 426,1053.6 420.5,1054.7 419,1054.7" fill="#000"/>
<text x="330" y="1142" font-family="Liberation Sans" font-size="37" font-weight="normal" stroke="#000" stroke-width="1.2" stroke-linejoin="round">3</text>
<text x="820.5" y="658" font-family="Liberation Serif" font-size="46" font-weight="normal" stroke="#000" stroke-width="0.9" stroke-linejoin="round"><tspan font-style="italic">г</tspan></text>
<rect x="924.0" y="647.5" width="446.0" height="3.0" fill="#000"/>
<rect x="1140.0" y="635.0" width="3.1" height="28.0" fill="#000"/>
<polygon points="1143.0,637.1 1147.5,648.0 1143.0,648.0" fill="#000"/>
<polygon points="1140.0,650.0 1135.5,650.0 1140.0,660.9" fill="#000"/>
<rect x="945.0" y="649.0" width="9.5" height="525.7" fill="#000"/>
<rect x="945.0" y="1167.0" width="164.7" height="7.7" fill="#000"/>
<rect x="1191.0" y="1167.0" width="163.4" height="7.7" fill="#000"/>
<rect x="1143.0" y="1167.0" width="15.6" height="9.6" fill="#000"/>
<rect x="1347.0" y="922.3" width="8.0" height="252.4" fill="#000"/>
<rect x="1346.2" y="649.0" width="9.0" height="72.0" fill="#000"/>
<rect x="1346.0" y="714.5" width="60.0" height="6.5" fill="#000"/>
<rect x="1398.0" y="644.0" width="8.0" height="77.0" fill="#000"/>
<rect x="1398.0" y="644.0" width="237.0" height="6.7" fill="#000"/>
<rect x="1406.0" y="711.5" width="43.0" height="2.5" fill="#000"/>
<rect x="1449.0" y="650.7" width="56.0" height="63.3" fill="url(#vs2)"/>
<rect x="1449.0" y="650.7" width="3.0" height="63.3" fill="#000"/>
<rect x="1502.0" y="650.7" width="3.0" height="63.3" fill="#000"/>
<rect x="1449.0" y="682.5" width="56.0" height="2.0" fill="#fff"/>
<rect x="1521.0" y="650.7" width="107.0" height="63.3" fill="url(#grid)"/>
<rect x="1449.0" y="713.8" width="186.0" height="6.9" fill="#000"/>
<rect x="1627.0" y="644.0" width="8.0" height="356.6" fill="#000"/>
<rect x="1448.3" y="720.7" width="4.7" height="41.8" fill="#000"/>
<rect x="1504.0" y="720.7" width="5.0" height="41.8" fill="#000"/>
<rect x="1560.0" y="720.7" width="5.0" height="41.8" fill="#000"/>
<rect x="1616.0" y="720.7" width="4.6" height="41.8" fill="#000"/>
<rect x="1448.3" y="758.5" width="178.7" height="4.0" fill="#000"/>
<path d="M1454,721 L1503,758.5 M1503,721 L1454,758.5" stroke="#000" stroke-width="3" fill="none"/>
<path d="M1510,721 L1559,758.5 M1559,721 L1510,758.5" stroke="#000" stroke-width="3" fill="none"/>
<path d="M1566,721 L1615,758.5 M1615,721 L1566,758.5" stroke="#000" stroke-width="3" fill="none"/>
<rect x="1449.5" y="880.6" width="177.5" height="3.9" fill="#000"/>
<rect x="1449.5" y="880.6" width="4.9" height="47.0" fill="#000"/>
<rect x="1503.4" y="880.6" width="4.9" height="47.0" fill="#000"/>
<rect x="1560.0" y="880.6" width="6.0" height="47.0" fill="#000"/>
<rect x="1617.0" y="880.6" width="5.0" height="47.0" fill="#000"/>
<path d="M1455.4,884.5 L1502.4,921.7 M1502.4,884.5 L1455.4,921.7" stroke="#000" stroke-width="3" fill="none"/>
<path d="M1509.3,884.5 L1559,921.7 M1559,884.5 L1509.3,921.7" stroke="#000" stroke-width="3" fill="none"/>
<path d="M1567,884.5 L1616,921.7 M1616,884.5 L1567,921.7" stroke="#000" stroke-width="3" fill="none"/>
<rect x="1449.0" y="921.7" width="186.0" height="8.8" fill="#000"/>
<rect x="1347.2" y="922.3" width="58.8" height="9.2" fill="#000"/>
<rect x="1399.0" y="922.0" width="7.0" height="78.6" fill="#000"/>
<rect x="1406.0" y="928.6" width="43.0" height="2.9" fill="#000"/>
<rect x="1450.5" y="930.5" width="54.8" height="61.1" fill="url(#vs2)"/>
<rect x="1450.5" y="930.5" width="3.0" height="61.1" fill="#000"/>
<rect x="1502.3" y="930.5" width="3.0" height="61.1" fill="#000"/>
<rect x="1450.5" y="961.0" width="54.8" height="2.0" fill="#fff"/>
<rect x="1523.0" y="930.5" width="104.0" height="61.1" fill="url(#grid)"/>
<rect x="1399.0" y="991.6" width="236.0" height="9.0" fill="#000"/>
<rect x="1041.0" y="679.0" width="9.0" height="9.0" fill="#000"/>
<rect x="1146.7" y="679.0" width="8.3" height="9.0" fill="#000"/>
<rect x="1252.4" y="679.0" width="7.6" height="9.0" fill="#000"/>
<rect x="1041.0" y="825.0" width="9.0" height="9.4" fill="#000"/>
<rect x="1146.7" y="825.0" width="8.3" height="9.4" fill="#000"/>
<rect x="1252.4" y="825.0" width="7.6" height="9.4" fill="#000"/>
<rect x="1041.0" y="971.0" width="9.0" height="9.0" fill="#000"/>
<rect x="1146.7" y="971.0" width="8.3" height="9.0" fill="#000"/>
<rect x="1252.4" y="971.0" width="7.6" height="9.0" fill="#000"/>
<rect x="954.0" y="679.0" width="5.0" height="9.0" fill="#000"/>
<rect x="954.0" y="825.0" width="5.0" height="9.0" fill="#000"/>
<rect x="954.0" y="971.0" width="5.0" height="9.0" fill="#000"/>
<rect x="954.0" y="1118.0" width="5.0" height="7.0" fill="#000"/>
<rect x="1343.0" y="679.0" width="4.0" height="9.0" fill="#000"/>
<rect x="1343.0" y="971.0" width="4.0" height="9.0" fill="#000"/>
<rect x="1343.0" y="1118.0" width="4.0" height="7.0" fill="#000"/>
<rect x="1042.4" y="1163.0" width="8.3" height="4.0" fill="#000"/>
<rect x="1252.0" y="1163.0" width="7.8" height="4.0" fill="#000"/>
<path d="M1074.5,1174 V1206 H1250 V1174" stroke="#000" stroke-width="2.8" fill="none"/>
<text x="993" y="890.4" font-family="Liberation Sans" font-size="30" font-weight="normal" stroke="#000" stroke-width="0.8" stroke-linejoin="round">3</text>
<polygon points="1160,1025 1165.9,1021 1170.1,1021 1170.1,1044.2 1165.9,1044.2 1165.9,1028.2 1161.5,1029.6 1160,1029.6" fill="#000"/>
<text x="1206.5" y="1143" font-family="Liberation Sans" font-size="32" font-weight="normal" stroke="#000" stroke-width="0.8" stroke-linejoin="round">2</text>
</svg></body></html>
